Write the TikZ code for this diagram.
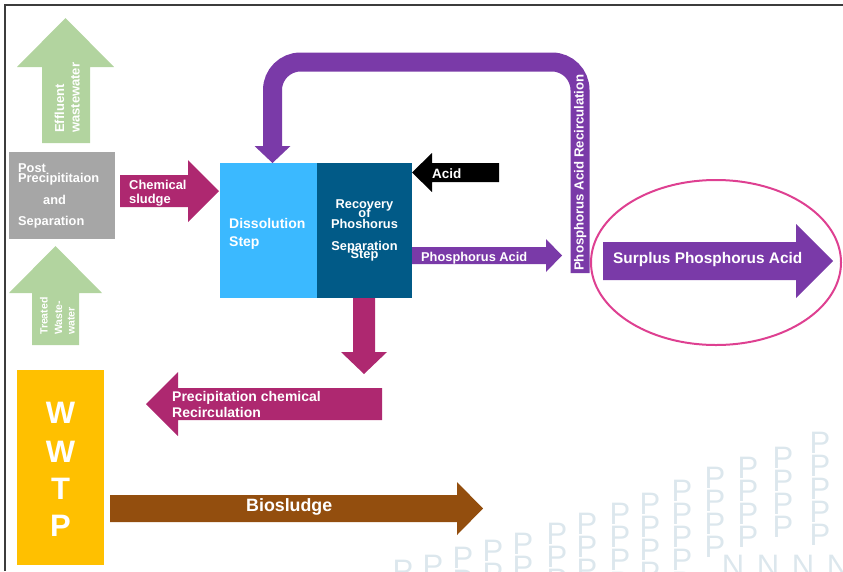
\documentclass[tikz,border=0pt]{standalone}
\usepackage{fontspec}
\setmainfont{Liberation Sans}
\newcommand\fsz[1]{\fontsize{#1}{#1}\selectfont}
\definecolor{leafgreen}{RGB}{178,212,159}
\definecolor{boxgray}{RGB}{166,166,166}
\definecolor{plum}{RGB}{174,40,112}
\definecolor{skyblue}{RGB}{59,185,255}
\definecolor{deepblue}{RGB}{1,90,135}
\definecolor{pviolet}{RGB}{122,58,168}
\definecolor{amber}{RGB}{255,192,0}
\definecolor{rust}{RGB}{147,78,14}
\definecolor{rosepink}{RGB}{222,64,145}
\definecolor{markgray}{RGB}{220,231,237}
\definecolor{framegray}{RGB}{60,60,60}
\begin{document}
\begin{tikzpicture}[x=1pt,y=-1pt,
  lbl/.style={text=white,inner sep=0pt},
  blockbox/.style={draw=none,inner sep=0pt},
  wm/.style={text=markgray,inner sep=0pt,anchor=north,font=\fsz{31}}]
\useasboundingbox (0,0) rectangle (843,571);

% faint lettering in the lower right background
\begin{scope}
  \clip (0,0) rectangle (843,571);
  \foreach \cx/\cy/\n in {403/560/1,433/555/1,463/547/2,493/540/2,523/533/2,557/523/3,587/513/3,620/503/3,650/493/4,682/480/4,715/467/3,748/457/3,783/447/3,820/432/4,852/420/5}{
    \foreach \j in {0,...,\n}{
      \pgfmathsetmacro\yy{\cy+23*\j}
      \node[wm] (wm-\cx-\j) at (\cx,\yy) {P};
    }
  }
  \foreach \nx in {733,768,803,838}{
    \node[wm] (wmn-\nx) at (\nx,555) {N};
  }
\end{scope}

% frame
\draw[framegray,line width=1.5] (5,571) -- (5,5) -- (843,5);

% effluent wastewater (up arrow)
\fill[leafgreen] (42,143) -- (42,67) -- (17,67) -- (65.5,18) -- (114,67) -- (90,67) -- (90,143) -- cycle;
\node[lbl,rotate=90,anchor=base west,font=\bfseries\fsz{13}] (eff1) at (64,133) {Effluent};
\node[lbl,rotate=90,anchor=base west,font=\bfseries\fsz{13}] (eff2) at (79.5,133) {wastewater};

% treated wastewater (up arrow)
\fill[leafgreen] (32,345) -- (32,293) -- (9,293) -- (55.5,246) -- (102,293) -- (79,293) -- (79,345) -- cycle;
\node[lbl,rotate=90,anchor=base west,font=\bfseries\fsz{10.5}] (tw1) at (47.5,335) {Treated};
\node[lbl,rotate=90,anchor=base west,font=\bfseries\fsz{10.5}] (tw2) at (62,335) {Waste-};
\node[lbl,rotate=90,anchor=base west,font=\bfseries\fsz{10.5}] (tw3) at (74.5,335) {water};

% post precipitation box
\node[blockbox,fill=boxgray,minimum width=106,minimum height=87] (post) at (62,195.5) {};
\node[lbl,anchor=base west,font=\bfseries\fsz{12.8}] (post1) at (18,172) {Post};
\node[lbl,anchor=base west,font=\bfseries\fsz{12.8}] (post2) at (18,182) {Precipititaion};
\node[lbl,anchor=base west,font=\bfseries\fsz{12.8}] (post3) at (43,204) {and};
\node[lbl,anchor=base west,font=\bfseries\fsz{12.8}] (post4) at (18,225) {Separation};

% chemical sludge
\fill[plum] (120,175) -- (188,175) -- (188,160) -- (219,191) -- (188,222) -- (188,207) -- (120,207) -- cycle;
\node[lbl,anchor=base west,font=\bfseries\fsz{12.9}] (cs1) at (129,189) {Chemical};
\node[lbl,anchor=base west,font=\bfseries\fsz{12.9}] (cs2) at (129,203) {sludge};

% phosphorus acid recirculation loop
\draw[pviolet,line width=19,rounded corners=28] (580,273) -- (580,62) -- (272.5,62) -- (272.5,147);
\fill[pviolet] (254.5,146) -- (290.5,146) -- (272.5,163) -- cycle;
\node[lbl,rotate=90,anchor=base west,font=\bfseries\fsz{13.2}] (recirc) at (583.5,271) {Phosphorus Acid Recirculation};

% process boxes
\node[blockbox,fill=skyblue,minimum width=97,minimum height=135] (diss) at (268.5,230.5) {};
\node[blockbox,fill=deepblue,minimum width=95,minimum height=135] (rec) at (364.5,230.5) {};
\node[lbl,anchor=base west,font=\bfseries\fsz{14}] (diss1) at (229,228) {Dissolution};
\node[lbl,anchor=base west,font=\bfseries\fsz{14}] (diss2) at (229,246) {Step};
\node[lbl,anchor=base,font=\bfseries\fsz{12.8}] (rec1) at (364.5,208) {Recovery};
\node[lbl,anchor=base,font=\bfseries\fsz{12.8}] (rec2) at (364.5,217.5) {of};
\node[lbl,anchor=base,font=\bfseries\fsz{12.8}] (rec3) at (364.5,228) {Phoshorus};
\node[lbl,anchor=base,font=\bfseries\fsz{12.8}] (rec4) at (364.5,250) {Separation};
\node[lbl,anchor=base,font=\bfseries\fsz{12.8}] (rec5) at (364.5,258.5) {Step};

% acid feed
\fill[black] (499,163) -- (432,163) -- (432,153) -- (412,172.5) -- (432,192) -- (432,182) -- (499,182) -- cycle;
\node[lbl,anchor=base west,font=\bfseries\fsz{13.5}] (acid) at (432,178) {Acid};

% phosphorus acid out
\fill[pviolet] (412,247) -- (546,247) -- (546,239) -- (562,255.5) -- (546,272) -- (546,264) -- (412,264) -- cycle;
\node[lbl,anchor=base west,font=\bfseries\fsz{12.8}] (pacid) at (421,261) {Phosphorus Acid};

% surplus phosphorus acid
\fill[pviolet] (603,242) -- (796,242) -- (796,224) -- (833,261) -- (796,298) -- (796,280) -- (603,280) -- cycle;
\node[lbl,anchor=base west,font=\bfseries\fsz{15.4}] (surplus) at (613,263) {Surplus Phosphorus Acid};
\draw[rosepink,line width=2] (716,262.5) ellipse [x radius=125,y radius=82.5];

% precipitation chemical recirculation
\fill[plum] (353,298) -- (375,298) -- (375,352) -- (387,352) -- (364,374) -- (341,352) -- (353,352) -- cycle;
\fill[plum] (382,388) -- (178,388) -- (178,372) -- (146,404) -- (178,436) -- (178,420) -- (382,420) -- cycle;
\node[lbl,anchor=base west,font=\bfseries\fsz{14}] (pc1) at (172,401) {Precipitation chemical};
\node[lbl,anchor=base west,font=\bfseries\fsz{14}] (pc2) at (172,417) {Recirculation};

% treatment plant
\node[blockbox,fill=amber,minimum width=87,minimum height=195] (wwtp) at (60.5,467.5) {};
\node[lbl,anchor=base,font=\bfseries\fsz{31}] (w1) at (60.5,423.5) {W};
\node[lbl,anchor=base,font=\bfseries\fsz{31}] (w2) at (60.5,462.5) {W};
\node[lbl,anchor=base,font=\bfseries\fsz{31}] (w3) at (60.5,499.5) {T};
\node[lbl,anchor=base,font=\bfseries\fsz{31}] (w4) at (60.5,536.5) {P};

% biosludge
\fill[rust] (110,495) -- (457,495) -- (457,482) -- (483,508.5) -- (457,535) -- (457,522) -- (110,522) -- cycle;
\node[lbl,anchor=base west,font=\bfseries\fsz{17.8}] (bio) at (246,511) {Biosludge};
\end{tikzpicture}
\end{document}
